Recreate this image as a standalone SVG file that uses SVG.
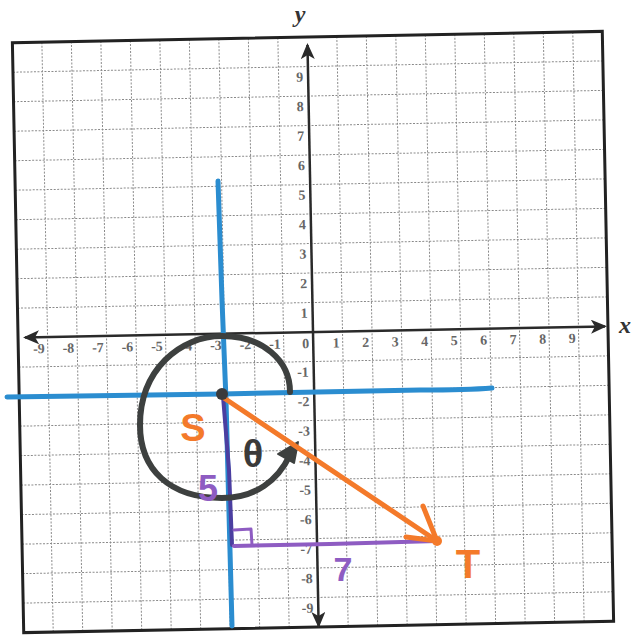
<svg xmlns="http://www.w3.org/2000/svg" width="633" height="636" viewBox="0 0 633 636">
<style>
.grid{stroke:#8a8a8a;stroke-width:1;stroke-dasharray:2 1.5;fill:none}
.frame{stroke:#222;stroke-width:3;fill:none}
.axis{stroke:#2a2a2a;stroke-width:2.5;fill:none}
.tick{font-family:"Liberation Serif",serif;font-weight:bold;font-size:14px;fill:#666;text-anchor:end}
.axl{font-family:"Liberation Serif",serif;font-style:italic;font-weight:bold;font-size:24px;fill:#333;text-anchor:middle}
.hand{font-family:"Liberation Sans",sans-serif;font-weight:bold;text-anchor:middle}
.blue{stroke:#2b8dd0;stroke-width:5;fill:none;stroke-linecap:round;stroke-linejoin:round}
.pen{fill:none;stroke-linecap:round;stroke-linejoin:round}
</style>
<defs>
<marker id="ah" markerUnits="userSpaceOnUse" markerWidth="16" markerHeight="14" refX="14" refY="7" orient="auto-start-reverse">
<path d="M0,0 L16,7 L0,14 L4,7 Z" fill="#2a2a2a"/>
</marker>
</defs>
<rect width="633" height="636" fill="#fff"/>
<g id="plane" transform="translate(313,332) rotate(-1.1)">
<g id="grid">
<path class="grid" d="M29.5,-295V295M59,-295V295M88.5,-295V295M118,-295V295M147.5,-295V295M177,-295V295M206.5,-295V295M236,-295V295M265.5,-295V295M-29.5,-295V295M-59,-295V295M-88.5,-295V295M-118,-295V295M-147.5,-295V295M-177,-295V295M-206.5,-295V295M-236,-295V295M-265.5,-295V295M-295,29.5H295M-295,59H295M-295,88.5H295M-295,118H295M-295,147.5H295M-295,177H295M-295,206.5H295M-295,236H295M-295,265.5H295M-295,-29.5H295M-295,-59H295M-295,-88.5H295M-295,-118H295M-295,-147.5H295M-295,-177H295M-295,-206.5H295M-295,-236H295M-295,-265.5H295"/>
<rect class="frame" x="-295" y="-295" width="590" height="590"/>
</g>
<g id="axes">
<line class="axis" x1="-288" y1="0" x2="292" y2="0" marker-start="url(#ah)" marker-end="url(#ah)"/>
<line class="axis" x1="0" y1="-287" x2="0" y2="294" marker-start="url(#ah)" marker-end="url(#ah)"/>
</g>
<g id="xticks" class="tick">
<text x="-268.5" y="16" class="tick">-9</text><text x="-239" y="16" class="tick">-8</text><text x="-209.5" y="16" class="tick">-7</text><text x="-180" y="16" class="tick">-6</text><text x="-150.5" y="16" class="tick">-5</text><text x="-121" y="16" class="tick">-4</text><text x="-91.5" y="16" class="tick">-3</text><text x="-62" y="16" class="tick">-2</text><text x="-32.5" y="16" class="tick">-1</text><text x="-4" y="16" class="tick">0</text><text x="26.5" y="16" class="tick">1</text><text x="56" y="16" class="tick">2</text><text x="85.5" y="16" class="tick">3</text><text x="115" y="16" class="tick">4</text><text x="144.5" y="16" class="tick">5</text><text x="174" y="16" class="tick">6</text><text x="203.5" y="16" class="tick">7</text><text x="233" y="16" class="tick">8</text><text x="262.5" y="16" class="tick">9</text>
</g>
<g id="yticks">
<text x="-5" y="-250.5" class="tick">9</text><text x="-5" y="-221" class="tick">8</text><text x="-5" y="-191.5" class="tick">7</text><text x="-5" y="-162" class="tick">6</text><text x="-5" y="-132.5" class="tick">5</text><text x="-5" y="-103" class="tick">4</text><text x="-5" y="-73.5" class="tick">3</text><text x="-5" y="-44" class="tick">2</text><text x="-5" y="-14.5" class="tick">1</text><text x="-5" y="44.5" class="tick">-1</text><text x="-5" y="74" class="tick">-2</text><text x="-5" y="103.5" class="tick">-3</text><text x="-5" y="133" class="tick">-4</text><text x="-5" y="162.5" class="tick">-5</text><text x="-5" y="192" class="tick">-6</text><text x="-5" y="221.5" class="tick">-7</text><text x="-5" y="251" class="tick">-8</text><text x="-5" y="280.5" class="tick">-9</text>
</g>
</g>
<g id="axis-labels">
<text x="300" y="22" class="axl">y</text>
<text x="625" y="333" class="axl">x</text>
</g>
<g id="connectors">
<path class="blue" d="M218,181 L222,300 L226,400 L232,626"/>
<path class="blue" d="M7,397 L222,394 L420,390 C460,390 480,389 492,388"/>
<path class="pen" stroke="#4b3ea0" stroke-width="4" d="M223,396 L229,470 L232,545"/>
<path class="pen" stroke="#8e5cc2" stroke-width="4" d="M234,546 L330,544 L437,541"/>
<path class="pen" stroke="#8e5cc2" stroke-width="3" d="M234,530 L251,529 L252,545"/>
<path class="pen" stroke="#3d403f" stroke-width="6" d="M290,392 C290,360 262,336 222,336 C180,336 140,370 140,425 C140,470 170,498 222,498 C256,498 278,480 290,455"/>
<polygon points="278,454 298,442 294,463" fill="#3d403f" stroke="#3d403f" stroke-width="2" stroke-linejoin="round"/>
<path class="pen" stroke="#f47a2a" stroke-width="5" d="M221,396 L437,541"/>
<path class="pen" stroke="#f47a2a" stroke-width="5" d="M423,506 L437,541 L406,537"/>
</g>
<g id="node-S">
<circle cx="222" cy="394" r="6" fill="#3b3b3b"/>
<text x="193" y="441" class="hand" font-size="38" fill="#f47a2a">S</text>
</g>
<g id="node-T">
<circle cx="437" cy="541" r="5" fill="#f47a2a"/>
<text x="468" y="578" class="hand" font-size="40" fill="#f47a2a">T</text>
</g>
<g id="labels">
<text x="253" y="467" class="hand" font-size="38" fill="#3a3a3a">θ</text>
<text x="208" y="501" class="hand" font-size="36" fill="#8e5cc2">5</text>
<text x="343" y="581" class="hand" font-size="34" fill="#8e5cc2">7</text>
</g>
</svg>
